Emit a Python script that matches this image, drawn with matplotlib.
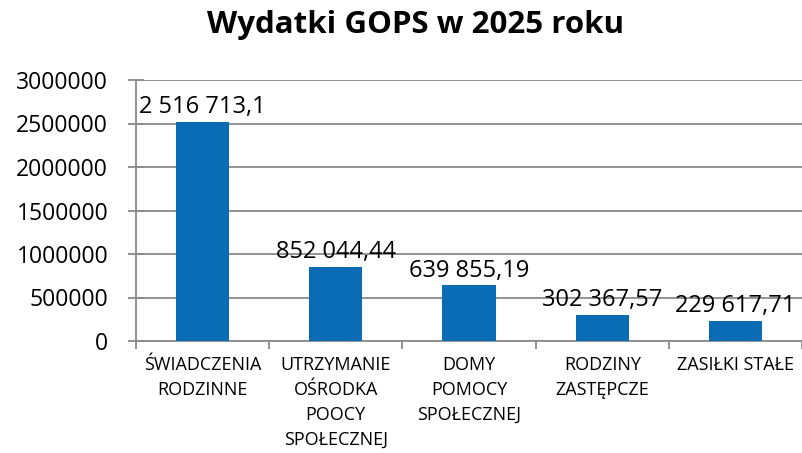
import matplotlib.pyplot as plt

plt.rcParams["font.family"] = ["Open Sans", "DejaVu Sans"]

categories = [
    "ŚWIADCZENIA\nRODZINNE",
    "UTRZYMANIE\nOŚRODKA\nPOOCY\nSPOŁECZNEJ",
    "DOMY\nPOMOCY\nSPOŁECZNEJ",
    "RODZINY\nZASTĘPCZE",
    "ZASIŁKI STAŁE",
]
values = [2516713.1, 852044.44, 639855.19, 302367.57, 229617.71]
value_labels = ["2 516 713,1", "852 044,44", "639 855,19", "302 367,57", "229 617,71"]
y_ticks = [0, 500000, 1000000, 1500000, 2000000, 2500000, 3000000]

BAR_COLOR = "#0a6cb4"
GRID_COLOR = "#8a8a8a"

fig = plt.figure(figsize=(8.03, 4.53), dpi=100)
ax = fig.add_axes([136 / 803, 112 / 453, 666 / 803, 261 / 453])

x = list(range(len(categories)))
ax.bar(x, values, width=0.4, color=BAR_COLOR, zorder=3)

for xi, v, lab in zip(x, values, value_labels):
    ax.annotate(lab, (xi, v), xytext=(0, 2), textcoords="offset points",
                ha="center", va="bottom", fontsize=17, zorder=4)

ax.set_xlim(-0.5, len(categories) - 0.5)
ax.set_ylim(0, 3000000)
ax.set_yticks(y_ticks)
ax.set_yticklabels([str(t) for t in y_ticks], fontsize=16.5)
ax.yaxis.grid(True, color=GRID_COLOR, linewidth=1.3, zorder=0)
ax.set_axisbelow(True)

# category ticks sit on the boundaries between bars
ax.set_xticks([i - 0.5 for i in range(len(categories) + 1)])
ax.set_xticklabels([])
ax.set_xticks(x, minor=True)
ax.set_xticklabels(categories, minor=True, fontsize=13, linespacing=1.5)
ax.tick_params(axis="x", which="minor", length=0, pad=11)
ax.tick_params(axis="x", which="major", length=6, color=GRID_COLOR, width=1.3)
ax.tick_params(axis="y", length=12, direction="inout", color=GRID_COLOR,
               width=1.3, pad=14)

for side in ["top", "right"]:
    ax.spines[side].set_visible(False)
for side in ["left", "bottom"]:
    ax.spines[side].set_color(GRID_COLOR)
    ax.spines[side].set_linewidth(1.3)

fig.text(416 / 803, 1 - 25 / 453, "Wydatki GOPS w 2025 roku",
         ha="center", va="center", fontsize=22.5, fontweight="bold")

fig.savefig("out.png", dpi=100)
